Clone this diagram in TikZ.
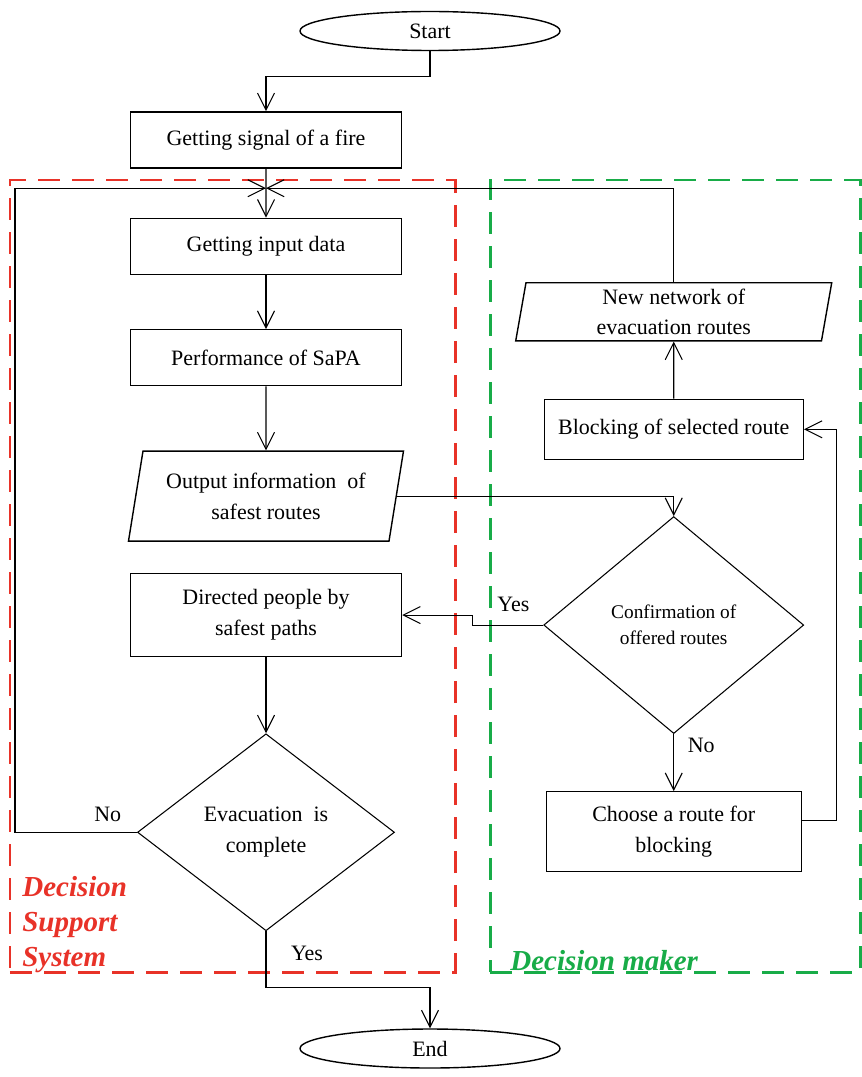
\documentclass[tikz,border=0pt]{standalone}
\usepackage{fontspec}
\setmainfont{Liberation Serif}
\usetikzlibrary{positioning, arrows.meta, calc, shapes.geometric}
\definecolor{DSSRed}{RGB}{232, 50, 40}
\definecolor{DMGreen}{RGB}{24, 172, 72}

\begin{document}
\begin{tikzpicture}[
    % Global Styles
    font=\fontsize{12.5}{17.5}\selectfont,
    block/.style={
        rectangle,
        draw=black,
        line width=0.8pt,
        align=center,
        minimum width=5.42cm,
        minimum height=1.12cm
    },
    terminal/.style={
        ellipse,
        draw=black,
        line width=0.8pt,
        minimum width=5.2cm,
        minimum height=0.78cm,
        inner sep=1pt
    },
    io/.style={
        trapezium,
        trapezium stretches body,
        draw=black,
        line width=0.8pt,
        align=center
    },
    decision/.style={
        diamond,
        draw=black,
        line width=0.6pt,
        align=center,
        inner sep=0pt
    },
    arrow/.style={
        -{Straight Barb[length=3.4mm,width=3.4mm]},
        line width=0.6pt,
        draw=black
    },
    flow/.style={line width=0.6pt, draw=black},
    label_text/.style={inner sep=2pt},
    laneframe/.style={
        rectangle,
        dash pattern=on 0.44cm off 0.24cm,
        line width=1.7pt
    },
    lane_title/.style={
        font=\fontsize{16.5}{20}\selectfont\bfseries\itshape,
        align=left,
        inner sep=0pt
    }
]
    \useasboundingbox (0,0) rectangle (17.24,-21.54);

    % --- Lanes ---
    \node[laneframe, draw=DSSRed, minimum width=8.9cm, minimum height=15.84cm] (dss) at (4.65,-11.52) {};
    \node[laneframe, draw=DMGreen, minimum width=7.4cm, minimum height=15.84cm] (dm) at (13.5,-11.52) {};
    \node[lane_title, text=DSSRed, anchor=north west] (dss_title) at (0.44,-17.52) {Decision\\Support\\System};
    \node[lane_title, text=DMGreen, anchor=base west] (dm_title) at (10.2,-19.4) {Decision maker};

    % --- Left column ---
    \node[terminal] (start) at (8.6,-0.62) {Start};
    \node[block, below=1.2cm of start, xshift=-3.28cm] (signal) {Getting signal of a fire};
    \node[block, below=0.98cm of signal] (input) {Getting input data};
    \node[block, below=1.08cm of input] (sapa) {Performance of SaPA};
    \node[io, below=1.28cm of sapa, trapezium left angle=76, trapezium right angle=104,
          minimum width=5.5cm, minimum height=1.8cm] (output) {Output information\ \ of\\safest routes};
    \node[block, below=0.62cm of output, minimum height=1.66cm] (directed) {Directed people by\\safest paths};
    \node[decision, below=1.52cm of directed, minimum width=5.14cm, minimum height=3.94cm] (evac) {Evacuation\ \ is\\complete};
    \node[terminal, below=1.94cm of evac, xshift=3.28cm] (end) {End};

    % --- Right column ---
    \node[decision, right=2.82cm of directed, yshift=-0.2cm, minimum width=5.2cm, minimum height=4.34cm,
          font=\fontsize{11}{15}\selectfont] (confirm) {Confirmation of\\offered routes};
    \node[block, below=1.14cm of confirm, minimum width=5.1cm, minimum height=1.6cm] (choose) {Choose a route for\\blocking};
    \node[block, above=1.12cm of confirm, minimum width=5.18cm, minimum height=1.2cm] (blocking) {Blocking of selected route};
    \node[io, above=1.14cm of blocking, trapezium left angle=80, trapezium right angle=100,
          minimum width=6.32cm, minimum height=1.14cm] (network) {New network of\\evacuation routes};

    % --- Connections ---
    \coordinate (merge) at ($(signal.south)!0.4!(input.north)$);

    \draw[arrow] (start.south) -- ++(0,-0.5) -| (signal.north);
    \draw[flow] (signal.south) -- (merge);
    \draw[arrow] (merge) -- (input.north);
    \draw[arrow] (input) -- (sapa);
    \draw[arrow] (sapa) -- (output);
    \draw[arrow] (output.east) -| (confirm.north);
    \draw[arrow] (confirm.west) -- node[label_text, above, pos=0.42, yshift=0.18cm] {Yes} ++(-1.42,0) |- (directed.east);
    \draw[arrow] (directed) -- (evac);
    \draw[arrow] (evac.west) -- node[label_text, above, pos=0.24, yshift=0.14cm] {No} ++(-2.44,0) |- (merge);
    \draw[arrow] (evac.south) -- node[label_text, right, pos=0.4, xshift=0.42cm] {Yes} ++(0,-1.12) -| (end.north);
    \draw[arrow] (confirm.south) -- node[label_text, right, pos=0.2, xshift=0.2cm] {No} (choose.north);
    \draw[arrow] ([yshift=0.22cm]choose.east) -- ++(0.7,0) |- (blocking.east);
    \draw[arrow] (blocking) -- (network);
    \draw[arrow] (network.north) |- (merge);

\end{tikzpicture}
\end{document}
